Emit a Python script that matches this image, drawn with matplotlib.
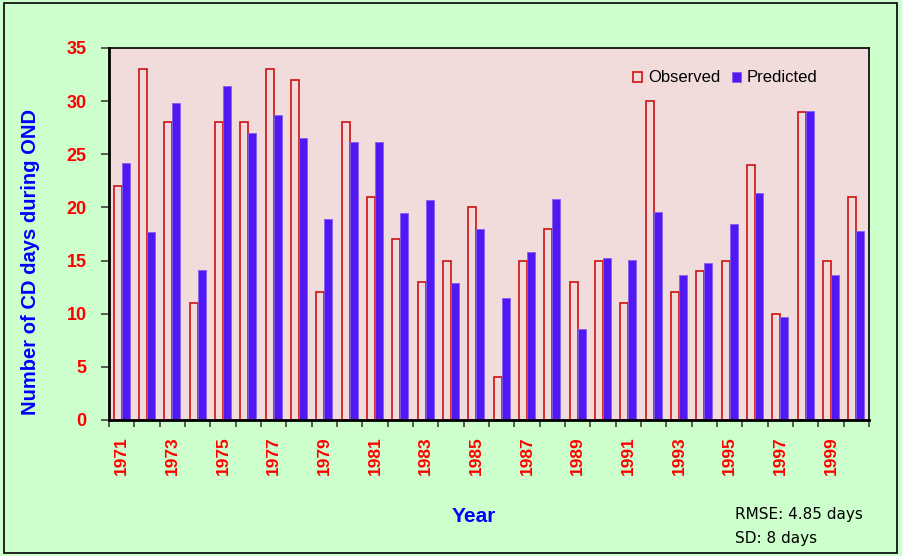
import numpy as np
import matplotlib.pyplot as plt
from matplotlib.patches import Rectangle

years = list(range(1971, 2001))
observed = [22, 33, 28, 11, 28, 28, 33, 32, 12, 28,
            21, 17, 13, 15, 20, 4, 15, 18, 13, 15,
            11, 30, 12, 14, 15, 24, 10, 29, 15, 21]
predicted = [24.2, 17.7, 29.8, 14.1, 31.4, 27.0, 28.7, 26.5, 18.9, 26.2,
             26.2, 19.5, 20.7, 12.9, 18.0, 11.5, 15.8, 20.8, 8.6, 15.2,
             15.1, 19.6, 13.6, 14.8, 18.4, 21.4, 9.7, 29.1, 13.6, 17.8]
year_labels = [str(y) for y in years[::2]]

fig = plt.figure(figsize=(9.02, 5.56), dpi=100, facecolor='#CCFFCC')
ax = fig.add_axes([109/902, 1 - 420/556, 760/902, 372/556])
ax.set_facecolor('#F2DCDB')

x = np.arange(len(years))
w = 0.31
ax.bar(x - w/2, observed, w, facecolor='none', edgecolor='#D01010',
       linewidth=1.2, label='Observed')
ax.bar(x + w/2, predicted, w, color='#5218F2', edgecolor='#8060F0',
       linewidth=0.6, label='Predicted')

ax.set_xlim(-0.5, len(years) - 0.5)
ax.set_ylim(0, 35)
ax.set_yticks(range(0, 36, 5))
for lab in ax.get_yticklabels():
    lab.set_color('red')
    lab.set_fontweight('bold')
    lab.set_fontsize(13)
    lab.set_family('Liberation Sans')
ax.tick_params(axis='y', direction='out', length=6, width=1.2, color='#404040', pad=10)

# ticks between categories, labels at every other year
ax.set_xticks(np.arange(-0.5, len(years), 1))
ax.set_xticklabels([])
ax.tick_params(axis='x', which='major', direction='out', length=5, width=1.2, color='#404040')
ax.set_xticks(x[::2], minor=True)
ax.set_xticklabels(year_labels, minor=True, rotation=90, color='red',
                   fontweight='bold', fontsize=12.5, family='Liberation Sans')
ax.tick_params(axis='x', which='minor', length=0, pad=12)

for s in ax.spines.values():
    s.set_color('black')
    s.set_linewidth(1.2)
ax.spines['left'].set_linewidth(2)
ax.spines['bottom'].set_linewidth(2)

fig.text(31/902, 1 - 262/556, 'Number of CD days during OND', color='#0000FF',
         fontweight='bold', fontsize=14.5, family='Liberation Sans',
         rotation=90, ha='center', va='center')
fig.text(474/902, 1 - 516/556, 'Year', color='#0000FF', fontweight='bold',
         fontsize=15, family='Liberation Sans', ha='center', va='center')

ax.legend(loc='center left', bbox_to_anchor=((633 - 109)/760, (420 - 78)/372), frameon=False,
          ncol=2, handlelength=0.55, handleheight=0.55,
          handletextpad=0.35, columnspacing=0.7, borderaxespad=0, borderpad=0,
          prop={'family': 'Liberation Sans', 'size': 12})

fig.text(735/902, 1 - 515/556, 'RMSE: 4.85 days', fontsize=11,
         family='Liberation Sans Narrow', va='center')
fig.text(735/902, 1 - 539/556, 'SD: 8 days', fontsize=11,
         family='Liberation Sans Narrow', va='center')

fig.patches.append(Rectangle((0.004, 0.005), 0.99, 0.99, transform=fig.transFigure,
                             fill=False, edgecolor='black', linewidth=1.2))

fig.savefig('out.png', dpi=100, facecolor=fig.get_facecolor())
